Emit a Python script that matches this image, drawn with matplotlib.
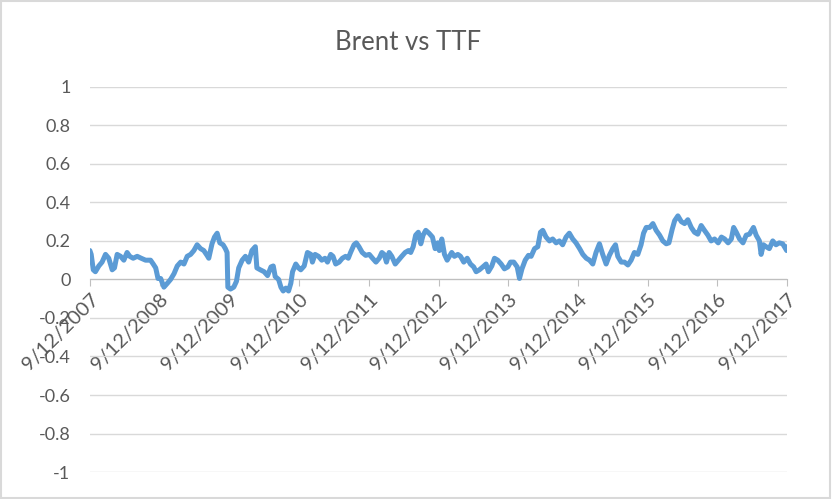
import matplotlib
matplotlib.use("Agg")
import matplotlib.pyplot as plt
from matplotlib.patches import Rectangle
import pandas as pd

#region data
dates = [
    "2007-09-12", "2007-09-19", "2007-09-30", "2007-10-11", "2007-10-29", "2007-11-15",
    "2007-12-03", "2007-12-20", "2008-01-07", "2008-01-19", "2008-02-02", "2008-02-20",
    "2008-03-08", "2008-03-25", "2008-04-08", "2008-04-26", "2008-05-17", "2008-06-07",
    "2008-06-30", "2008-07-26", "2008-08-09", "2008-08-22", "2008-09-03", "2008-09-17",
    "2008-10-04", "2008-10-22", "2008-11-08", "2008-11-26", "2008-12-13", "2008-12-31",
    "2009-01-17", "2009-02-03", "2009-02-21", "2009-03-10", "2009-03-27", "2009-04-14",
    "2009-05-01", "2009-05-18", "2009-05-27", "2009-06-13", "2009-06-26", "2009-07-10",
    "2009-07-24", "2009-08-10", "2009-08-22", "2009-08-31", "2009-09-04", "2009-09-18",
    "2009-10-05", "2009-10-19", "2009-10-31", "2009-11-18", "2009-12-05", "2009-12-22",
    "2010-01-08", "2010-01-26", "2010-02-03", "2010-02-21", "2010-03-13", "2010-03-31",
    "2010-04-18", "2010-04-30", "2010-05-10", "2010-05-28", "2010-06-09", "2010-06-21",
    "2010-07-05", "2010-07-19", "2010-07-31", "2010-08-09", "2010-08-26", "2010-09-09",
    "2010-09-21", "2010-10-09", "2010-10-26", "2010-11-13", "2010-11-21", "2010-12-05",
    "2010-12-23", "2011-01-09", "2011-01-26", "2011-02-08", "2011-02-25", "2011-03-09",
    "2011-03-23", "2011-04-10", "2011-04-27", "2011-05-14", "2011-05-28", "2011-06-09",
    "2011-06-27", "2011-07-09", "2011-07-23", "2011-08-09", "2011-08-27", "2011-09-15",
    "2011-10-02", "2011-10-20", "2011-11-06", "2011-11-20", "2011-12-02", "2011-12-14",
    "2011-12-28", "2012-01-11", "2012-01-29", "2012-02-15", "2012-03-03", "2012-03-21",
    "2012-04-07", "2012-04-19", "2012-05-02", "2012-05-15", "2012-05-29", "2012-06-11",
    "2012-06-23", "2012-07-07", "2012-07-24", "2012-08-11", "2012-08-25", "2012-09-08",
    "2012-09-16", "2012-09-29", "2012-10-13", "2012-10-27", "2012-11-08", "2012-11-20",
    "2012-12-04", "2012-12-22", "2013-01-05", "2013-01-22", "2013-02-09", "2013-02-26",
    "2013-03-15", "2013-03-28", "2013-04-14", "2013-05-02", "2013-05-19", "2013-05-31",
    "2013-06-18", "2013-07-02", "2013-07-19", "2013-08-06", "2013-08-23", "2013-09-10",
    "2013-09-24", "2013-10-11", "2013-10-29", "2013-11-10", "2013-11-23", "2013-12-10",
    "2013-12-27", "2014-01-10", "2014-01-28", "2014-02-14", "2014-02-28", "2014-03-12",
    "2014-03-29", "2014-04-16", "2014-05-03", "2014-05-21", "2014-06-07", "2014-06-24",
    "2014-07-12", "2014-07-29", "2014-08-16", "2014-09-02", "2014-09-21", "2014-10-08",
    "2014-10-26", "2014-11-12", "2014-11-29", "2014-12-16", "2015-01-03", "2015-01-20",
    "2015-02-07", "2015-02-24", "2015-03-14", "2015-03-28", "2015-04-09", "2015-04-27",
    "2015-05-14", "2015-06-01", "2015-06-18", "2015-07-05", "2015-07-23", "2015-08-09",
    "2015-08-22", "2015-09-05", "2015-09-23", "2015-10-10", "2015-10-27", "2015-11-14",
    "2015-12-01", "2015-12-19", "2016-01-02", "2016-01-19", "2016-02-01", "2016-02-18",
    "2016-03-07", "2016-03-24", "2016-04-10", "2016-04-28", "2016-05-15", "2016-06-01",
    "2016-06-19", "2016-07-06", "2016-07-24", "2016-08-10", "2016-08-28", "2016-09-16",
    "2016-10-03", "2016-10-20", "2016-11-07", "2016-11-24", "2016-12-06", "2016-12-20",
    "2017-01-06", "2017-01-24", "2017-02-10", "2017-02-27", "2017-03-20", "2017-04-03",
    "2017-04-20", "2017-04-29", "2017-05-11", "2017-05-25", "2017-06-11", "2017-06-29",
    "2017-07-16", "2017-08-02", "2017-08-20", "2017-09-10", "2017-09-12",
]

corr = [
    0.15, 0.13, 0.05, 0.04, 0.07, 0.09,
    0.13, 0.11, 0.05, 0.06, 0.13, 0.12,
    0.10, 0.14, 0.12, 0.11, 0.12, 0.11,
    0.10, 0.10, 0.08, 0.06, 0.005, 0.005,
    -0.04, -0.02, 0.00, 0.03, 0.07, 0.09,
    0.08, 0.12, 0.13, 0.15, 0.18, 0.16,
    0.15, 0.125, 0.11, 0.185, 0.22, 0.24,
    0.19, 0.18, 0.16, 0.14, -0.04, -0.05,
    -0.04, -0.01, 0.06, 0.10, 0.12, 0.09,
    0.15, 0.17, 0.06, 0.05, 0.04, 0.02,
    0.065, 0.07, 0.015, 0.00, -0.04, -0.06,
    -0.045, -0.06, -0.02, 0.04, 0.08, 0.06,
    0.05, 0.07, 0.14, 0.13, 0.09, 0.13,
    0.12, 0.10, 0.11, 0.09, 0.13, 0.12,
    0.08, 0.09, 0.11, 0.12, 0.11, 0.14,
    0.18, 0.19, 0.17, 0.14, 0.125, 0.13,
    0.11, 0.09, 0.11, 0.14, 0.13, 0.09,
    0.14, 0.12, 0.08, 0.10, 0.12, 0.14,
    0.15, 0.14, 0.17, 0.23, 0.245, 0.185,
    0.23, 0.255, 0.24, 0.22, 0.16, 0.19,
    0.15, 0.21, 0.13, 0.10, 0.12, 0.14,
    0.12, 0.13, 0.12, 0.09, 0.11, 0.08,
    0.065, 0.04, 0.05, 0.065, 0.08, 0.04,
    0.07, 0.11, 0.10, 0.08, 0.055, 0.065,
    0.09, 0.09, 0.065, 0.005, 0.055, 0.10,
    0.125, 0.12, 0.16, 0.17, 0.245, 0.255,
    0.22, 0.20, 0.21, 0.19, 0.20, 0.18,
    0.22, 0.24, 0.21, 0.19, 0.16, 0.13,
    0.11, 0.10, 0.08, 0.14, 0.185, 0.13,
    0.08, 0.125, 0.16, 0.18, 0.12, 0.09,
    0.09, 0.075, 0.10, 0.14, 0.13, 0.18,
    0.24, 0.27, 0.27, 0.29, 0.255, 0.23,
    0.20, 0.185, 0.19, 0.26, 0.305, 0.33,
    0.30, 0.29, 0.31, 0.27, 0.245, 0.235,
    0.28, 0.255, 0.23, 0.20, 0.21, 0.19,
    0.22, 0.21, 0.19, 0.21, 0.27, 0.245,
    0.21, 0.19, 0.23, 0.235, 0.27, 0.23,
    0.20, 0.13, 0.18, 0.17, 0.16, 0.20,
    0.18, 0.19, 0.185, 0.15, 0.17,
]

tick_dates = ["2007-09-12", "2008-09-12", "2009-09-12", "2010-09-12", "2011-09-12",
              "2012-09-12", "2013-09-12", "2014-09-12", "2015-09-12", "2016-09-12",
              "2017-09-12"]
y_ticks = [-1, -0.8, -0.6, -0.4, -0.2, 0, 0.2, 0.4, 0.6, 0.8, 1]
#endregion

x = pd.to_datetime(dates)
xt = pd.to_datetime(tick_dates)

plt.rcParams['font.family'] = ['Lato', 'DejaVu Sans']
txt = '#595959'
grid = '#D9D9D9'

#region plots
fig = plt.figure(figsize=(8.32, 4.99), dpi=100)
ax = fig.add_axes([0.108, 0.054, 0.838, 0.772])

ax.plot(x, corr, color='#5B9BD5', lw=3.6, solid_joinstyle='round',
        solid_capstyle='round', zorder=3)

ax.set_xlim(xt[0], xt[-1])
ax.set_ylim(-1, 1)
ax.set_yticks(y_ticks)
ax.set_yticklabels([f"{v:g}" for v in y_ticks])
ax.grid(axis='y', color=grid, lw=1)
ax.set_axisbelow(True)

for s in ['top', 'right', 'left']:
    ax.spines[s].set_visible(False)
ax.spines['bottom'].set_position(('data', 0))
ax.spines['bottom'].set_color('#BFBFBF')
ax.spines['bottom'].set_zorder(2)

ax.set_xticks(xt)
ax.set_xticklabels([f"{d.month}/{d.day}/{d.year}" for d in xt], rotation=45,
                   ha='right', va='top', rotation_mode='anchor')
ax.tick_params(axis='x', direction='out', length=5, color='#BFBFBF',
               labelsize=14.5, labelcolor=txt, pad=3)
ax.tick_params(axis='y', length=0, labelsize=13, labelcolor=txt, pad=14)

fig.text(0.49, 0.915, 'Brent vs TTF', ha='center', va='center', fontsize=18.5, color=txt)

fig.add_artist(Rectangle((0.001, 0.002), 0.997, 0.996, transform=fig.transFigure,
                         fill=False, edgecolor=grid, lw=1.5))

fig.savefig('out.png', dpi=100)
#endregion
